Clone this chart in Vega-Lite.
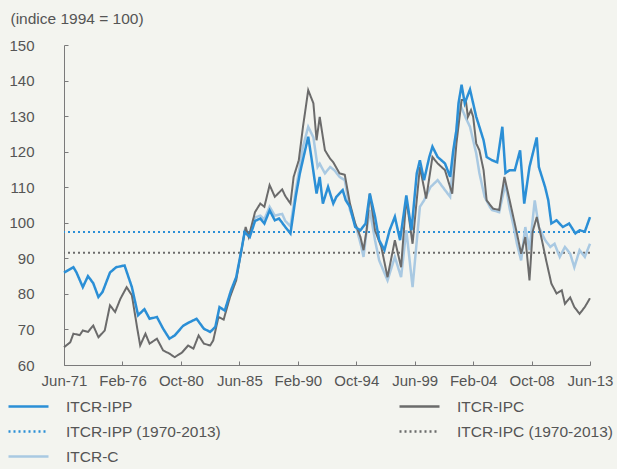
{
  "$schema": "https://vega.github.io/schema/vega-lite/v6.json",
  "width": 526,
  "height": 320,
  "autosize": {"type": "none"},
  "padding": {"left": 64, "top": 45, "right": 27, "bottom": 104},
  "background": "#f3f4ef",
  "config": {
    "view": {"stroke": null},
    "font": "Liberation Sans",
    "axis": {"domain": true, "domainColor": "#7a7a7a", "domainWidth": 1, "ticks": true, "tickColor": "#7a7a7a", "labelColor": "#555555", "labelFontSize": 15, "grid": false},
    "axisX": {"domain": true, "domainColor": "#7a7a7a", "domainWidth": 1},
    "legend": {"labelColor": "#555555", "labelFontSize": 15.5, "symbolStrokeWidth": 2.5}
  },
  "datasets": {
    "series": [
      {"d":"1971-06","s":"ITCR-IPP","v":86},{"d":"1972-03","s":"ITCR-IPP","v":87.5},{"d":"1972-06","s":"ITCR-IPP","v":86},{"d":"1972-12","s":"ITCR-IPP","v":81.9},{"d":"1973-05","s":"ITCR-IPP","v":85},{"d":"1973-10","s":"ITCR-IPP","v":83},{"d":"1974-03","s":"ITCR-IPP","v":79.1},{"d":"1974-07","s":"ITCR-IPP","v":80.6},{"d":"1975-02","s":"ITCR-IPP","v":86},{"d":"1975-08","s":"ITCR-IPP","v":87.5},{"d":"1976-04","s":"ITCR-IPP","v":88},{"d":"1976-11","s":"ITCR-IPP","v":81.9},{"d":"1977-05","s":"ITCR-IPP","v":74},{"d":"1977-11","s":"ITCR-IPP","v":75.7},{"d":"1978-04","s":"ITCR-IPP","v":73},{"d":"1978-11","s":"ITCR-IPP","v":73.5},{"d":"1979-05","s":"ITCR-IPP","v":70.2},{"d":"1979-11","s":"ITCR-IPP","v":67.4},{"d":"1980-04","s":"ITCR-IPP","v":68.3},{"d":"1980-12","s":"ITCR-IPP","v":71},{"d":"1981-06","s":"ITCR-IPP","v":72},{"d":"1982-01","s":"ITCR-IPP","v":73},{"d":"1982-08","s":"ITCR-IPP","v":70.2},{"d":"1983-02","s":"ITCR-IPP","v":69.3},{"d":"1983-07","s":"ITCR-IPP","v":70.7},{"d":"1983-11","s":"ITCR-IPP","v":76.3},{"d":"1984-04","s":"ITCR-IPP","v":75.3},{"d":"1984-10","s":"ITCR-IPP","v":81},{"d":"1985-03","s":"ITCR-IPP","v":84.7},{"d":"1985-08","s":"ITCR-IPP","v":92.3},{"d":"1985-11","s":"ITCR-IPP","v":97.4},{"d":"1986-04","s":"ITCR-IPP","v":96},{"d":"1986-09","s":"ITCR-IPP","v":100.5},{"d":"1987-02","s":"ITCR-IPP","v":101.2},{"d":"1987-06","s":"ITCR-IPP","v":99.8},{"d":"1987-11","s":"ITCR-IPP","v":103.5},{"d":"1988-04","s":"ITCR-IPP","v":100.7},{"d":"1988-08","s":"ITCR-IPP","v":101.2},{"d":"1989-02","s":"ITCR-IPP","v":98.8},{"d":"1989-07","s":"ITCR-IPP","v":97},{"d":"1989-12","s":"ITCR-IPP","v":107.3},{"d":"1990-04","s":"ITCR-IPP","v":113.9},{"d":"1990-09","s":"ITCR-IPP","v":120.4},{"d":"1990-12","s":"ITCR-IPP","v":124.2},{"d":"1991-03","s":"ITCR-IPP","v":118.5},{"d":"1991-08","s":"ITCR-IPP","v":108.2},{"d":"1991-11","s":"ITCR-IPP","v":112.9},{"d":"1992-02","s":"ITCR-IPP","v":105.4},{"d":"1992-07","s":"ITCR-IPP","v":110.1},{"d":"1992-12","s":"ITCR-IPP","v":105.4},{"d":"1993-03","s":"ITCR-IPP","v":107.3},{"d":"1993-09","s":"ITCR-IPP","v":109.2},{"d":"1993-12","s":"ITCR-IPP","v":106.3},{"d":"1994-04","s":"ITCR-IPP","v":104.5},{"d":"1994-09","s":"ITCR-IPP","v":98.8},{"d":"1995-02","s":"ITCR-IPP","v":97.9},{"d":"1995-07","s":"ITCR-IPP","v":99.8},{"d":"1995-11","s":"ITCR-IPP","v":108.2},{"d":"1996-04","s":"ITCR-IPP","v":101.7},{"d":"1996-08","s":"ITCR-IPP","v":95.1},{"d":"1997-01","s":"ITCR-IPP","v":92.3},{"d":"1997-06","s":"ITCR-IPP","v":97.9},{"d":"1997-11","s":"ITCR-IPP","v":101.7},{"d":"1998-04","s":"ITCR-IPP","v":95.1},{"d":"1998-10","s":"ITCR-IPP","v":107.7},{"d":"1999-03","s":"ITCR-IPP","v":97.9},{"d":"1999-08","s":"ITCR-IPP","v":113.9},{"d":"1999-11","s":"ITCR-IPP","v":117.6},{"d":"2000-03","s":"ITCR-IPP","v":112},{"d":"2000-08","s":"ITCR-IPP","v":118.5},{"d":"2000-11","s":"ITCR-IPP","v":121.4},{"d":"2001-04","s":"ITCR-IPP","v":118.5},{"d":"2001-11","s":"ITCR-IPP","v":116.7},{"d":"2002-04","s":"ITCR-IPP","v":112.9},{"d":"2002-07","s":"ITCR-IPP","v":120.4},{"d":"2002-10","s":"ITCR-IPP","v":126},{"d":"2002-12","s":"ITCR-IPP","v":133.6},{"d":"2003-03","s":"ITCR-IPP","v":138.8},{"d":"2003-06","s":"ITCR-IPP","v":133.6},{"d":"2003-11","s":"ITCR-IPP","v":137.5},{"d":"2004-05","s":"ITCR-IPP","v":129.8},{"d":"2004-08","s":"ITCR-IPP","v":127},{"d":"2004-12","s":"ITCR-IPP","v":123.2},{"d":"2005-03","s":"ITCR-IPP","v":118.5},{"d":"2005-08","s":"ITCR-IPP","v":117.6},{"d":"2006-01","s":"ITCR-IPP","v":117},{"d":"2006-06","s":"ITCR-IPP","v":127},{"d":"2006-09","s":"ITCR-IPP","v":114},{"d":"2007-01","s":"ITCR-IPP","v":114.8},{"d":"2007-06","s":"ITCR-IPP","v":114.8},{"d":"2007-11","s":"ITCR-IPP","v":120.4},{"d":"2008-03","s":"ITCR-IPP","v":105.4},{"d":"2008-08","s":"ITCR-IPP","v":115.7},{"d":"2009-03","s":"ITCR-IPP","v":124},{"d":"2009-05","s":"ITCR-IPP","v":115.7},{"d":"2009-11","s":"ITCR-IPP","v":110},{"d":"2010-02","s":"ITCR-IPP","v":106.3},{"d":"2010-05","s":"ITCR-IPP","v":99.8},{"d":"2010-10","s":"ITCR-IPP","v":100.7},{"d":"2011-04","s":"ITCR-IPP","v":98.8},{"d":"2011-10","s":"ITCR-IPP","v":99.8},{"d":"2012-04","s":"ITCR-IPP","v":97},{"d":"2012-08","s":"ITCR-IPP","v":97.9},{"d":"2013-01","s":"ITCR-IPP","v":97.5},{"d":"2013-06","s":"ITCR-IPP","v":101.6},
      {"d":"1971-06","s":"ITCR-IPC","v":65},{"d":"1971-12","s":"ITCR-IPC","v":66.4},{"d":"1972-03","s":"ITCR-IPC","v":68.8},{"d":"1972-09","s":"ITCR-IPC","v":68.4},{"d":"1972-12","s":"ITCR-IPC","v":69.7},{"d":"1973-05","s":"ITCR-IPC","v":69.3},{"d":"1973-10","s":"ITCR-IPC","v":71.1},{"d":"1974-03","s":"ITCR-IPC","v":67.8},{"d":"1974-09","s":"ITCR-IPC","v":69.7},{"d":"1975-02","s":"ITCR-IPC","v":76.8},{"d":"1975-07","s":"ITCR-IPC","v":74.9},{"d":"1975-12","s":"ITCR-IPC","v":78.6},{"d":"1976-06","s":"ITCR-IPC","v":81.9},{"d":"1976-11","s":"ITCR-IPC","v":79.6},{"d":"1977-04","s":"ITCR-IPC","v":70.6},{"d":"1977-07","s":"ITCR-IPC","v":65.5},{"d":"1977-12","s":"ITCR-IPC","v":68.8},{"d":"1978-04","s":"ITCR-IPC","v":66},{"d":"1978-11","s":"ITCR-IPC","v":67.4},{"d":"1979-05","s":"ITCR-IPC","v":64.1},{"d":"1979-11","s":"ITCR-IPC","v":63.2},{"d":"1980-04","s":"ITCR-IPC","v":62.2},{"d":"1980-11","s":"ITCR-IPC","v":63.5},{"d":"1981-05","s":"ITCR-IPC","v":65.5},{"d":"1981-10","s":"ITCR-IPC","v":64.6},{"d":"1982-03","s":"ITCR-IPC","v":68.3},{"d":"1982-08","s":"ITCR-IPC","v":66},{"d":"1983-02","s":"ITCR-IPC","v":65.5},{"d":"1983-05","s":"ITCR-IPC","v":66.9},{"d":"1983-10","s":"ITCR-IPC","v":73.5},{"d":"1984-03","s":"ITCR-IPC","v":72.8},{"d":"1984-09","s":"ITCR-IPC","v":79.1},{"d":"1985-03","s":"ITCR-IPC","v":83.8},{"d":"1985-08","s":"ITCR-IPC","v":92.3},{"d":"1985-12","s":"ITCR-IPC","v":98.8},{"d":"1986-03","s":"ITCR-IPC","v":96},{"d":"1986-09","s":"ITCR-IPC","v":103},{"d":"1987-02","s":"ITCR-IPC","v":105.4},{"d":"1987-06","s":"ITCR-IPC","v":104.5},{"d":"1987-11","s":"ITCR-IPC","v":110.6},{"d":"1988-04","s":"ITCR-IPC","v":107.3},{"d":"1988-11","s":"ITCR-IPC","v":109.4},{"d":"1989-02","s":"ITCR-IPC","v":107.5},{"d":"1989-07","s":"ITCR-IPC","v":105.4},{"d":"1989-10","s":"ITCR-IPC","v":112.9},{"d":"1990-03","s":"ITCR-IPC","v":117.6},{"d":"1990-07","s":"ITCR-IPC","v":127},{"d":"1990-12","s":"ITCR-IPC","v":137.3},{"d":"1991-05","s":"ITCR-IPC","v":133.6},{"d":"1991-08","s":"ITCR-IPC","v":123.2},{"d":"1991-11","s":"ITCR-IPC","v":129.8},{"d":"1992-04","s":"ITCR-IPC","v":120.4},{"d":"1992-09","s":"ITCR-IPC","v":118},{"d":"1992-12","s":"ITCR-IPC","v":117},{"d":"1993-06","s":"ITCR-IPC","v":113.9},{"d":"1993-11","s":"ITCR-IPC","v":113.5},{"d":"1994-04","s":"ITCR-IPC","v":105.4},{"d":"1994-09","s":"ITCR-IPC","v":99.8},{"d":"1995-02","s":"ITCR-IPC","v":96},{"d":"1995-05","s":"ITCR-IPC","v":92.3},{"d":"1995-08","s":"ITCR-IPC","v":98},{"d":"1995-11","s":"ITCR-IPC","v":108.2},{"d":"1996-04","s":"ITCR-IPC","v":97.9},{"d":"1996-10","s":"ITCR-IPC","v":93.2},{"d":"1997-04","s":"ITCR-IPC","v":84.7},{"d":"1997-11","s":"ITCR-IPC","v":95.1},{"d":"1998-05","s":"ITCR-IPC","v":87.5},{"d":"1998-10","s":"ITCR-IPC","v":106.8},{"d":"1999-04","s":"ITCR-IPC","v":94.1},{"d":"1999-11","s":"ITCR-IPC","v":115.7},{"d":"2000-05","s":"ITCR-IPC","v":106.8},{"d":"2000-11","s":"ITCR-IPC","v":118.5},{"d":"2001-04","s":"ITCR-IPC","v":116.7},{"d":"2001-11","s":"ITCR-IPC","v":114.8},{"d":"2002-04","s":"ITCR-IPC","v":110},{"d":"2002-06","s":"ITCR-IPC","v":108.2},{"d":"2002-10","s":"ITCR-IPC","v":122.3},{"d":"2003-03","s":"ITCR-IPC","v":134.5},{"d":"2003-07","s":"ITCR-IPC","v":134.5},{"d":"2003-09","s":"ITCR-IPC","v":129.8},{"d":"2003-12","s":"ITCR-IPC","v":131.7},{"d":"2004-02","s":"ITCR-IPC","v":129.8},{"d":"2004-05","s":"ITCR-IPC","v":122.3},{"d":"2004-08","s":"ITCR-IPC","v":120.4},{"d":"2004-12","s":"ITCR-IPC","v":114.8},{"d":"2005-03","s":"ITCR-IPC","v":106.3},{"d":"2005-09","s":"ITCR-IPC","v":104},{"d":"2006-03","s":"ITCR-IPC","v":103.6},{"d":"2006-08","s":"ITCR-IPC","v":112.9},{"d":"2007-01","s":"ITCR-IPC","v":106.3},{"d":"2007-08","s":"ITCR-IPC","v":97},{"d":"2007-12","s":"ITCR-IPC","v":91.3},{"d":"2008-04","s":"ITCR-IPC","v":96},{"d":"2008-08","s":"ITCR-IPC","v":83.8},{"d":"2008-11","s":"ITCR-IPC","v":97.5},{"d":"2009-03","s":"ITCR-IPC","v":101.6},{"d":"2009-08","s":"ITCR-IPC","v":95},{"d":"2009-12","s":"ITCR-IPC","v":89.4},{"d":"2010-05","s":"ITCR-IPC","v":82.9},{"d":"2010-10","s":"ITCR-IPC","v":80.1},{"d":"2011-03","s":"ITCR-IPC","v":81},{"d":"2011-06","s":"ITCR-IPC","v":77.2},{"d":"2011-11","s":"ITCR-IPC","v":79},{"d":"2012-03","s":"ITCR-IPC","v":76.3},{"d":"2012-08","s":"ITCR-IPC","v":74.4},{"d":"2013-01","s":"ITCR-IPC","v":76.3},{"d":"2013-06","s":"ITCR-IPC","v":78.8},
      {"d":"1986-04","s":"ITCR-C","v":96.5},{"d":"1986-09","s":"ITCR-C","v":101.5},{"d":"1987-02","s":"ITCR-C","v":102},{"d":"1987-06","s":"ITCR-C","v":101},{"d":"1987-11","s":"ITCR-C","v":104.5},{"d":"1988-04","s":"ITCR-C","v":102},{"d":"1988-11","s":"ITCR-C","v":102.5},{"d":"1989-02","s":"ITCR-C","v":100.5},{"d":"1989-07","s":"ITCR-C","v":99},{"d":"1989-12","s":"ITCR-C","v":109},{"d":"1990-04","s":"ITCR-C","v":116},{"d":"1990-07","s":"ITCR-C","v":121.4},{"d":"1990-12","s":"ITCR-C","v":127},{"d":"1991-05","s":"ITCR-C","v":124},{"d":"1991-09","s":"ITCR-C","v":115.7},{"d":"1991-11","s":"ITCR-C","v":116.6},{"d":"1992-04","s":"ITCR-C","v":113.9},{"d":"1992-09","s":"ITCR-C","v":115.7},{"d":"1993-01","s":"ITCR-C","v":114.8},{"d":"1993-06","s":"ITCR-C","v":112.9},{"d":"1993-11","s":"ITCR-C","v":112},{"d":"1994-04","s":"ITCR-C","v":103.6},{"d":"1994-10","s":"ITCR-C","v":98.8},{"d":"1995-03","s":"ITCR-C","v":93.2},{"d":"1995-05","s":"ITCR-C","v":90.4},{"d":"1995-08","s":"ITCR-C","v":97.9},{"d":"1995-11","s":"ITCR-C","v":103.6},{"d":"1996-04","s":"ITCR-C","v":95.1},{"d":"1996-08","s":"ITCR-C","v":89.4},{"d":"1997-04","s":"ITCR-C","v":83.8},{"d":"1997-11","s":"ITCR-C","v":90.4},{"d":"1998-05","s":"ITCR-C","v":84.7},{"d":"1998-10","s":"ITCR-C","v":97.9},{"d":"1999-04","s":"ITCR-C","v":81.9},{"d":"1999-11","s":"ITCR-C","v":104.5},{"d":"2000-03","s":"ITCR-C","v":106.3},{"d":"2000-09","s":"ITCR-C","v":110},{"d":"2001-04","s":"ITCR-C","v":112},{"d":"2001-11","s":"ITCR-C","v":109.2},{"d":"2002-04","s":"ITCR-C","v":107.3},{"d":"2002-08","s":"ITCR-C","v":121.4},{"d":"2003-01","s":"ITCR-C","v":133.6},{"d":"2003-07","s":"ITCR-C","v":129.5},{"d":"2003-11","s":"ITCR-C","v":127},{"d":"2004-05","s":"ITCR-C","v":119.5},{"d":"2004-08","s":"ITCR-C","v":114},{"d":"2005-01","s":"ITCR-C","v":107.3},{"d":"2005-06","s":"ITCR-C","v":104.5},{"d":"2005-08","s":"ITCR-C","v":103.6},{"d":"2006-03","s":"ITCR-C","v":103},{"d":"2006-09","s":"ITCR-C","v":111},{"d":"2007-01","s":"ITCR-C","v":104},{"d":"2007-05","s":"ITCR-C","v":98.8},{"d":"2007-08","s":"ITCR-C","v":94.1},{"d":"2007-12","s":"ITCR-C","v":89.4},{"d":"2008-04","s":"ITCR-C","v":98.8},{"d":"2008-08","s":"ITCR-C","v":92.3},{"d":"2009-01","s":"ITCR-C","v":106.3},{"d":"2009-05","s":"ITCR-C","v":98.8},{"d":"2009-11","s":"ITCR-C","v":95.1},{"d":"2010-04","s":"ITCR-C","v":93.2},{"d":"2010-08","s":"ITCR-C","v":94.1},{"d":"2011-01","s":"ITCR-C","v":90.4},{"d":"2011-06","s":"ITCR-C","v":93.2},{"d":"2011-11","s":"ITCR-C","v":91.3},{"d":"2012-03","s":"ITCR-C","v":87.5},{"d":"2012-08","s":"ITCR-C","v":92.3},{"d":"2013-01","s":"ITCR-C","v":90.4},{"d":"2013-06","s":"ITCR-C","v":94.1}
    ],
    "avg": [
      {"s":"ITCR-IPP (1970-2013)","v":97.4},
      {"s":"ITCR-IPC (1970-2013)","v":91.6}
    ]
  },
  "encoding": {
    "y": {
      "field": "v", "type": "quantitative",
      "scale": {"domain": [60, 150], "nice": false, "zero": false},
      "axis": {
        "domain": true, "domainColor": "#7a7a7a",
        "values": [60,70,80,90,100,110,120,130,140,150],
        "tickSize": -4, "labelPadding": 34, "labelOverlap": false, "labelFlush": false,
        "title": "(indice 1994 = 100)", "titleAngle": 0, "titleAlign": "left", "titleBaseline": "middle",
        "titleX": -54, "titleY": -27, "titleFontWeight": "normal", "titleFontSize": 15.5, "titleColor": "#555555"
      }
    },
    "color": {
      "field": "s", "type": "nominal", "title": null,
      "scale": {
        "domain": ["ITCR-IPP","ITCR-IPP (1970-2013)","ITCR-C","ITCR-IPC","ITCR-IPC (1970-2013)"],
        "range": ["#2b8fd6","#2b8fd6","#a9c9e2","#6b6b6b","#6b6b6b"]
      },
      "legend": {"orient": "none", "legendX": -47, "legendY": 350, "columns": 2, "columnPadding": 172, "rowPadding": 5, "symbolType": "M-2,0H2", "symbolSize": 400, "labelOffset": 26}
    },
    "strokeDash": {
      "field": "s", "type": "nominal", "title": null,
      "scale": {
        "domain": ["ITCR-IPP","ITCR-IPP (1970-2013)","ITCR-C","ITCR-IPC","ITCR-IPC (1970-2013)"],
        "range": [[1,0],[2,3],[1,0],[1,0],[2,3]]
      }
    }
  },
  "layer": [
    {
      "data": {"name": "avg"},
      "mark": {"type": "rule", "strokeWidth": 2}
    },
    {
      "data": {"name": "series"},
      "transform": [{"filter": "datum.s === 'ITCR-C'"}],
      "mark": {"type": "line", "strokeWidth": 2.5},
      "encoding": {
        "x": {
          "field": "d", "type": "temporal", "title": null,
          "scale": {"type": "utc", "domain": [{"year": 1971, "month": 6, "date": 1, "utc": true}, {"year": 2013, "month": 6, "date": 1, "utc": true}]},
          "axis": {
            "domain": true, "domainColor": "#7a7a7a", "domainWidth": 1,
            "values": [
              {"year": 1971, "month": 6, "date": 1, "utc": true},
              {"year": 1976, "month": 2, "date": 1, "utc": true},
              {"year": 1980, "month": 10, "date": 1, "utc": true},
              {"year": 1985, "month": 6, "date": 1, "utc": true},
              {"year": 1990, "month": 2, "date": 1, "utc": true},
              {"year": 1994, "month": 10, "date": 1, "utc": true},
              {"year": 1999, "month": 6, "date": 1, "utc": true},
              {"year": 2004, "month": 2, "date": 1, "utc": true},
              {"year": 2008, "month": 10, "date": 1, "utc": true},
              {"year": 2013, "month": 6, "date": 1, "utc": true}
            ],
            "format": "%b-%y", "tickSize": -4, "labelPadding": 12, "labelFlush": false, "labelOverlap": false
          }
        }
      }
    },
    {
      "data": {"name": "series"},
      "transform": [{"filter": "datum.s === 'ITCR-IPC'"}],
      "mark": {"type": "line", "strokeWidth": 2},
      "encoding": {
        "x": {"field": "d", "type": "temporal", "axis": {"domain": true, "domainColor": "#7a7a7a"}}
      }
    },
    {
      "data": {"name": "series"},
      "transform": [{"filter": "datum.s === 'ITCR-IPP'"}],
      "mark": {"type": "line", "strokeWidth": 2.5},
      "encoding": {
        "x": {"field": "d", "type": "temporal", "axis": {"domain": true, "domainColor": "#7a7a7a"}}
      }
    }
  ]
}
